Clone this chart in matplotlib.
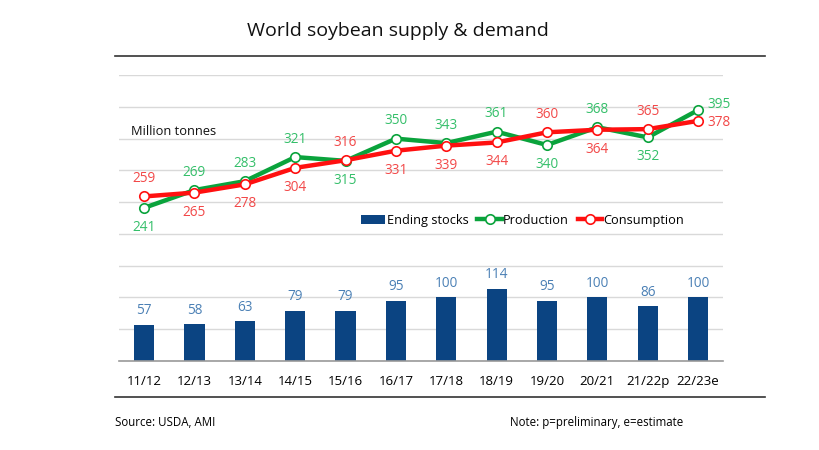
import matplotlib
matplotlib.use('Agg')
import matplotlib.pyplot as plt
import numpy as np

plt.rcParams['font.family'] = ['Open Sans', 'DejaVu Sans']

seasons = ['11/12', '12/13', '13/14', '14/15', '15/16', '16/17',
           '17/18', '18/19', '19/20', '20/21', '21/22p', '22/23e']
production = [241, 269, 283, 321, 315, 350, 343, 361, 340, 368, 352, 395]
consumption = [259, 265, 278, 304, 316, 331, 339, 344, 360, 364, 365, 378]
ending_stocks = [57, 58, 63, 79, 79, 95, 100, 114, 95, 100, 86, 100]

# where the data labels go (a = above, b = below, r = right)
prod_pos = ['b', 'a', 'a', 'a', 'b', 'a', 'a', 'a', 'b', 'a', 'b', 'r']
cons_pos = ['a', 'b', 'b', 'b', 'a', 'b', 'b', 'b', 'a', 'b', 'a', 'r']

GREEN = '#0aa33c'
GREEN_TXT = '#35bf6a'
RED = '#ff1010'
RED_TXT = '#f24848'
NAVY = '#0b4482'
BLUE_TXT = '#4b80b5'

fig = plt.figure(figsize=(8.2, 4.5), dpi=100)
ax = fig.add_axes([0.145, 0.198, 0.737, 0.635])

x = np.arange(len(seasons))
bars = ax.bar(x, ending_stocks, width=0.4, color=NAVY, zorder=2, label='Ending stocks')
lp, = ax.plot(x, production, color=GREEN, lw=3.2, marker='o', ms=6.8,
              mfc='white', mec=GREEN, mew=1.2, zorder=3, label='Production')
lc, = ax.plot(x, consumption, color=RED, lw=3.2, marker='o', ms=6.8,
              mfc='white', mec=RED, mew=1.2, zorder=4, label='Consumption')

ax.set_xlim(-0.5, len(seasons) - 0.5)
ax.set_ylim(0, 450)
ax.set_yticks(np.arange(0, 451, 50))
ax.yaxis.grid(True, color='#d9d9d9', lw=1)
ax.set_axisbelow(True)
ax.tick_params(axis='y', left=False, labelleft=False)
ax.tick_params(axis='x', bottom=False, labelsize=9.5, pad=7)
ax.set_xticks(x)
ax.set_xticklabels(seasons)
for s in ['top', 'right', 'left']:
    ax.spines[s].set_visible(False)
ax.spines['bottom'].set_color('#9a9a9a')
ax.spines['bottom'].set_linewidth(1.2)


def put_labels(vals, pos, col, up_right):
    for i, (v, p) in enumerate(zip(vals, pos)):
        if p == 'a':
            off, ha = (0, 13), 'center'
        elif p == 'b':
            off, ha = (0, -14), 'center'
        else:
            off, ha = (7, up_right), 'left'
        ax.annotate(str(v), (i, v), xytext=off, textcoords='offset points',
                    ha=ha, va='center', color=col, fontsize=9.8)


put_labels(production, prod_pos, GREEN_TXT, 4)
put_labels(consumption, cons_pos, RED_TXT, -1)

for i, v in enumerate(ending_stocks):
    ax.annotate(str(v), (i, v), xytext=(0, 10), textcoords='offset points',
                ha='center', va='center', color=BLUE_TXT, fontsize=9.8)

ax.text(0.02, 0.803, 'Million tonnes', transform=ax.transAxes, fontsize=9.3,
        ha='left', va='center', color='#111111')

ax.legend(handles=[bars, lp, lc], loc='center', bbox_to_anchor=(0.668, 0.493),
          ncol=3, frameon=False, fontsize=9.2, handlelength=1.9,
          handletextpad=0.1, columnspacing=0.7)

fig.text(0.485, 0.932, 'World soybean supply & demand', ha='center', va='center',
         fontsize=14, color='#111111')
fig.add_artist(plt.Line2D([0.14, 0.933], [0.876, 0.876], color='#333333', lw=1.2))
fig.add_artist(plt.Line2D([0.14, 0.933], [0.118, 0.118], color='#333333', lw=1.2))
fig.text(0.14, 0.062, 'Source: USDA, AMI', ha='left', va='center', fontsize=8.3)
fig.text(0.622, 0.062, 'Note: p=preliminary, e=estimate', ha='left', va='center', fontsize=8.3)

fig.savefig('out.png', dpi=100)
